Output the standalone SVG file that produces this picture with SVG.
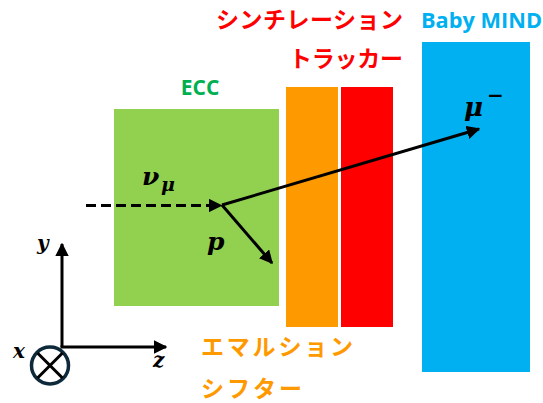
<svg xmlns="http://www.w3.org/2000/svg" width="543" height="403" viewBox="0 0 543 403">
<defs>
<marker id="ah" viewBox="0 0 10 10" refX="9" refY="5" markerWidth="4.5" markerHeight="4.5" markerUnits="strokeWidth" orient="auto">
<path d="M0,0 L10,5 L0,10 z" fill="#000"/>
</marker>
<style>
.jp{font-family:"Noto Sans CJK JP","Noto Sans",sans-serif;font-weight:bold;font-size:23px}
.lat{font-family:"Open Sans","Liberation Sans",sans-serif;font-weight:bold}
.m{font-family:"DejaVu Serif","Liberation Serif",serif;font-weight:bold;font-style:italic;fill:#000}
.ln{stroke:#000;stroke-width:3;fill:none}
</style>
</defs>
<rect width="543" height="403" fill="#fff"/>
<g id="ecc">
<rect x="114" y="109" width="165" height="197" fill="#92D050"/>
<text class="lat" x="200" y="95" font-size="21" fill="#00B050" text-anchor="middle">ECC</text>
</g>
<g id="shifter">
<rect x="286" y="87" width="52" height="240" fill="#FF9900"/>
<text class="jp" x="201" y="355" fill="#FF9900" textLength="152" lengthAdjust="spacing">エマルション</text>
<text class="jp" x="201" y="397" fill="#FF9900" textLength="101" lengthAdjust="spacing">シフター</text>
</g>
<g id="tracker">
<rect x="341" y="87" width="52" height="240" fill="#FF0000"/>
<text class="jp" x="216" y="28" fill="#FF0000" textLength="187" lengthAdjust="spacing">シンチレーション</text>
<text class="jp" x="289" y="67" fill="#FF0000" textLength="114" lengthAdjust="spacing">トラッカー</text>
</g>
<g id="babymind">
<rect x="422" y="42" width="108" height="330" fill="#00B0F0"/>
<text class="lat" x="421" y="28" font-size="21" fill="#00B0F0" textLength="121" lengthAdjust="spacingAndGlyphs">Baby MIND</text>
</g>
<g id="connectors">
<line class="ln" x1="86" y1="205.5" x2="221" y2="205.5" stroke-dasharray="10,5" marker-end="url(#ah)"/>
<line class="ln" x1="222" y1="205" x2="479" y2="129" marker-end="url(#ah)"/>
<line class="ln" x1="222" y1="205" x2="272" y2="263" marker-end="url(#ah)"/>
<line class="ln" x1="62" y1="347" x2="62" y2="244" marker-end="url(#ah)"/>
<line class="ln" x1="60.5" y1="347" x2="166" y2="347" marker-end="url(#ah)"/>
</g>
<g id="labels">
<text class="m" x="142" y="185" font-size="25">ν</text>
<text class="m" x="161" y="191" font-size="19">μ</text>
<text class="m" x="207" y="250" font-size="25">p</text>
<text class="m" x="464" y="116" font-size="26">μ</text>
<text class="m" x="487" y="102" font-size="20" style="font-style:normal">−</text>
<text class="m" x="37" y="250" font-size="20">y</text>
<text class="m" x="13" y="358" font-size="20">x</text>
<text class="m" x="153" y="367" font-size="20">z</text>
</g>
<g id="xaxis">
<circle cx="50" cy="365.5" r="18.5" fill="#fff" stroke="#0E2A3A" stroke-width="3.5"/>
<line class="ln" x1="37.5" y1="353" x2="62.5" y2="378"/>
<line class="ln" x1="62.5" y1="353" x2="37.5" y2="378"/>
</g>
</svg>
